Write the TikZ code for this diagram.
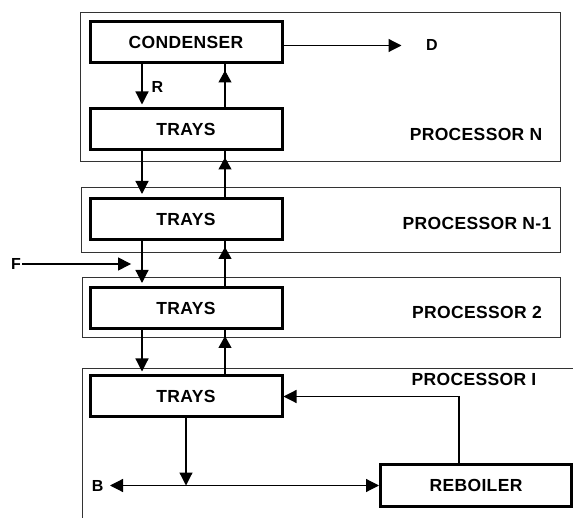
\documentclass[tikz,border=0pt]{standalone}
\usepackage{fontspec}
\setmainfont{Liberation Sans}
\newfontfamily\blockfont[LetterSpace=2]{Liberation Sans}
\usetikzlibrary{arrows.meta,positioning}

\begin{document}
\begin{tikzpicture}[
  x=1pt,y=-1pt,
  unit/.style={rectangle,draw,line width=3pt,minimum width=192pt,minimum height=41pt,
               inner sep=0pt,font=\blockfont\bfseries\fontsize{17.5}{20}\selectfont},
  frame/.style={rectangle,draw=black!80,line width=1pt,anchor=north west,inner sep=0pt},
  tag/.style={font=\blockfont\bfseries\fontsize{17.5}{20}\selectfont},
  letter/.style={font=\bfseries\fontsize{16}{19}\selectfont,inner sep=1pt},
  arrow/.style={-{Triangle[length=13pt,width=13pt]},line width=1.2pt,shorten >=3pt},
  riser/.style={line width=1.2pt,
                postaction={draw,-{Triangle[length=12pt,width=13pt]},shorten >=6pt}}
]
\useasboundingbox (0,0) rectangle (573,518);
\clip (0,0) rectangle (573,518);

%% Processor frames
\node[frame,minimum width=480pt,minimum height=149pt] (pN)  at (80,12)  {};
\node[frame,minimum width=479pt,minimum height=65pt]  (pN1) at (81,187) {};
\node[frame,minimum width=478pt,minimum height=60pt]  (p2)  at (82,277) {};
\node[frame,minimum width=520pt,minimum height=200pt] (p1)  at (82,368) {};

\node[tag] (tagN)  at (476,134) {PROCESSOR N};
\node[tag] (tagN1) at (477,223) {PROCESSOR N-1};
\node[tag] (tag2)  at (477,312) {PROCESSOR 2};
\node[tag] (tag1)  at (474,379) {PROCESSOR I};

%% Units
\node[unit] (cond)   at (186,42.5)  {CONDENSER};
\node[unit] (traysN) at (186,129.5) {TRAYS};
\node[unit] (traysN1) at (186,219)  {TRAYS};
\node[unit] (trays2) at (186,308)   {TRAYS};
\node[unit] (trays1) at (186,396.5) {TRAYS};
\node[unit,minimum width=191pt,minimum height=42pt] (reb) at (476,485.5) {REBOILER};

%% Liquid down, vapour up
\draw[arrow] ([xshift=-44pt]cond.south) -- ([xshift=-44pt]traysN.north)
  node[letter,midway,right=8pt,yshift=-1pt] (R) {R};
\draw[riser] ([xshift=39pt]traysN.north) -- ([xshift=39pt]cond.south);
\draw[arrow] ([xshift=-44pt]traysN.south) -- ([xshift=-44pt]traysN1.north);
\draw[riser] ([xshift=39pt]traysN1.north) -- ([xshift=39pt]traysN.south);
\draw[arrow] ([xshift=-44pt]traysN1.south) -- ([xshift=-44pt]trays2.north);
\draw[riser] ([xshift=39pt]trays2.north) -- ([xshift=39pt]traysN1.south);
\draw[arrow] ([xshift=-44pt]trays2.south) -- ([xshift=-44pt]trays1.north);
\draw[riser] ([xshift=39pt]trays1.north) -- ([xshift=39pt]trays2.south);

%% Products and feed
\draw[arrow] ([yshift=-3pt]cond.east) -- ++(121,0) node[letter,right=20pt] (D) {D};
\node[letter] (F) at (16,264) {F};
\draw[arrow] (F.east) -- ++(112,0);

%% Bottom section
\coordinate (split) at (trays1.south |- reb.west);
\draw[arrow,shorten >=0pt] (trays1.south) -- (split);
\draw[arrow,shorten >=0pt] (split) -- (reb.west);
\draw[arrow,shorten >=0pt] (split) -- ++(-76,0) node[letter,left=5pt] (B) {B};
\draw[arrow,shorten >=0pt] ([xshift=-17pt]reb.north) |- (trays1.east);

\end{tikzpicture}
\end{document}
